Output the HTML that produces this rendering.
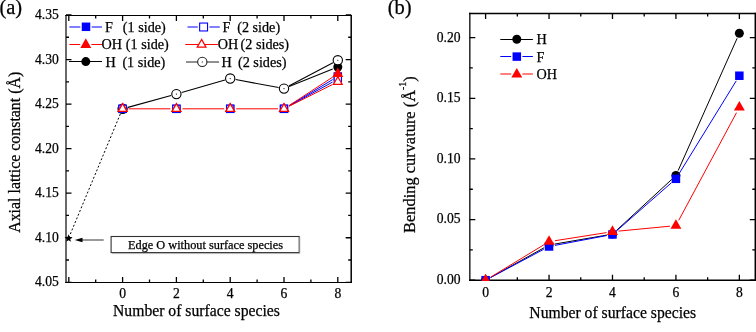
<!DOCTYPE html><html><head><meta charset="utf-8"><style>html,body{margin:0;padding:0;background:#fff;width:756px;height:332px;overflow:hidden}svg{display:block;will-change:transform}text{font-family:"Liberation Serif", serif;fill:#000;stroke:#000;stroke-width:0.25px}</style></head><body>
<svg width="756" height="332" viewBox="0 0 756 332">
<path d="M66.00 14.93V283.10" stroke="#444" stroke-width="1.6"/>
<path d="M351.20 14.93V283.10" stroke="#000" stroke-width="1.5"/>
<path d="M65.20 15.50H351.95" stroke="#000" stroke-width="1.15"/>
<path d="M65.20 282.50H351.95" stroke="#000" stroke-width="1.2"/>
<path d="M68.80 282.50V277.00M68.80 15.50V21.00M122.60 282.50V277.00M122.60 15.50V21.00M176.40 282.50V277.00M176.40 15.50V21.00M230.20 282.50V277.00M230.20 15.50V21.00M284.00 282.50V277.00M284.00 15.50V21.00M337.80 282.50V277.00M337.80 15.50V21.00M95.70 282.50V279.50M95.70 15.50V18.50M149.50 282.50V279.50M149.50 15.50V18.50M203.30 282.50V279.50M203.30 15.50V18.50M257.10 282.50V279.50M257.10 15.50V18.50M310.90 282.50V279.50M310.90 15.50V18.50M66.00 282.30H71.50M351.20 282.30H345.70M66.00 237.75H71.50M351.20 237.75H345.70M66.00 193.20H71.50M351.20 193.20H345.70M66.00 148.65H71.50M351.20 148.65H345.70M66.00 104.10H71.50M351.20 104.10H345.70M66.00 59.55H71.50M351.20 59.55H345.70M66.00 15.00H71.50M351.20 15.00H345.70M66.00 260.02H69.00M351.20 260.02H348.20M66.00 215.47H69.00M351.20 215.47H348.20M66.00 170.93H69.00M351.20 170.93H348.20M66.00 126.37H69.00M351.20 126.37H348.20M66.00 81.82H69.00M351.20 81.82H348.20M66.00 37.27H69.00M351.20 37.27H348.20" stroke="#000" stroke-width="1.3" fill="none"/>
<text x="58.80" y="286.30" font-size="13.6" text-anchor="end" >4.05</text>
<text x="58.80" y="241.75" font-size="13.6" text-anchor="end" >4.10</text>
<text x="58.80" y="197.20" font-size="13.6" text-anchor="end" >4.15</text>
<text x="58.80" y="152.65" font-size="13.6" text-anchor="end" >4.20</text>
<text x="58.80" y="108.10" font-size="13.6" text-anchor="end" >4.25</text>
<text x="58.80" y="63.55" font-size="13.6" text-anchor="end" >4.30</text>
<text x="58.80" y="19.00" font-size="13.6" text-anchor="end" >4.35</text>
<text x="122.60" y="297.50" font-size="13.6" text-anchor="middle" >0</text>
<text x="176.40" y="297.50" font-size="13.6" text-anchor="middle" >2</text>
<text x="230.20" y="297.50" font-size="13.6" text-anchor="middle" >4</text>
<text x="284.00" y="297.50" font-size="13.6" text-anchor="middle" >6</text>
<text x="337.80" y="297.50" font-size="13.6" text-anchor="middle" >8</text>
<text x="113.00" y="315.90" font-size="15.7" text-anchor="start" >Number of surface species</text>
<text x="19.60" y="232.80" font-size="15.9" text-anchor="start" transform="rotate(-90 19.6 232.8)">Axial lattice constant (Å)</text>
<text x="-0.60" y="14.20" font-size="20.5" text-anchor="start" >(a)</text>
<path d="M68.80 237.75L122.60 108.55" stroke="#000" stroke-width="1" stroke-dasharray="2 2" fill="none"/>
<path d="M127.91 107.37L171.09 95.57M181.68 92.59L224.92 80.06M235.61 79.54L278.59 87.58" fill="none" stroke="#000" stroke-width="1.05"/>
<path d="M289.10 86.54L332.70 69.00" fill="none" stroke="#000" stroke-width="1.05"/>
<path d="M288.87 86.03L332.93 62.83" fill="none" stroke="#000" stroke-width="1.05"/>
<path d="M289.14 105.73L332.66 79.57" fill="none" stroke="#0000ff" stroke-width="1.0"/>
<path d="M289.25 105.92L332.55 82.05" fill="none" stroke="#0000ff" stroke-width="1.0"/>
<path d="M128.60 108.82L170.40 108.82M182.40 108.82L224.20 108.82M236.20 108.82L278.00 108.82" fill="none" stroke="#ff0000" stroke-width="1.0"/>
<path d="M289.03 105.55L332.77 77.08" fill="none" stroke="#ff0000" stroke-width="1.0"/>
<path d="M289.36 106.13L332.44 84.52" fill="none" stroke="#ff0000" stroke-width="1.0"/>
<circle cx="122.60" cy="108.82" r="4.50" fill="#000"/>
<circle cx="176.40" cy="94.12" r="4.50" fill="#000"/>
<circle cx="230.20" cy="78.53" r="4.50" fill="#000"/>
<circle cx="284.00" cy="88.60" r="4.50" fill="#000"/>
<circle cx="337.80" cy="66.95" r="4.50" fill="#000"/>
<circle cx="122.60" cy="108.82" r="4.65" fill="#fff" stroke="#000" stroke-width="1.1"/>
<circle cx="122.60" cy="108.82" r="0.6" fill="#000"/>
<circle cx="176.40" cy="94.12" r="4.65" fill="#fff" stroke="#000" stroke-width="1.1"/>
<circle cx="176.40" cy="94.12" r="0.6" fill="#000"/>
<circle cx="230.20" cy="78.53" r="4.65" fill="#fff" stroke="#000" stroke-width="1.1"/>
<circle cx="230.20" cy="78.53" r="0.6" fill="#000"/>
<circle cx="284.00" cy="88.60" r="4.65" fill="#fff" stroke="#000" stroke-width="1.1"/>
<circle cx="284.00" cy="88.60" r="0.6" fill="#000"/>
<circle cx="337.80" cy="60.26" r="4.65" fill="#fff" stroke="#000" stroke-width="1.1"/>
<circle cx="337.80" cy="60.26" r="0.6" fill="#000"/>
<rect x="118.35" y="104.57" width="8.50" height="8.50" fill="#0000ff"/>
<rect x="172.15" y="104.57" width="8.50" height="8.50" fill="#0000ff"/>
<rect x="225.95" y="104.57" width="8.50" height="8.50" fill="#0000ff"/>
<rect x="279.75" y="104.57" width="8.50" height="8.50" fill="#0000ff"/>
<rect x="333.55" y="72.23" width="8.50" height="8.50" fill="#0000ff"/>
<rect x="119.00" y="105.22" width="7.20" height="7.20" fill="#fff" stroke="#0000ff" stroke-width="1.1"/>
<rect x="172.80" y="105.22" width="7.20" height="7.20" fill="#fff" stroke="#0000ff" stroke-width="1.1"/>
<rect x="226.60" y="105.22" width="7.20" height="7.20" fill="#fff" stroke="#0000ff" stroke-width="1.1"/>
<rect x="280.40" y="105.22" width="7.20" height="7.20" fill="#fff" stroke="#0000ff" stroke-width="1.1"/>
<rect x="334.20" y="75.55" width="7.20" height="7.20" fill="#fff" stroke="#0000ff" stroke-width="1.1"/>
<path d="M122.60 102.42L128.05 112.02L117.15 112.02Z" fill="#ff0000"/>
<path d="M176.40 102.42L181.85 112.02L170.95 112.02Z" fill="#ff0000"/>
<path d="M230.20 102.42L235.65 112.02L224.75 112.02Z" fill="#ff0000"/>
<path d="M284.00 102.42L289.45 112.02L278.55 112.02Z" fill="#ff0000"/>
<path d="M337.80 67.41L343.25 77.01L332.35 77.01Z" fill="#ff0000"/>
<path d="M122.60 103.62L127.00 111.42L118.20 111.42Z" fill="#fff" stroke="#ff0000" stroke-width="1.2" stroke-linejoin="miter"/>
<path d="M176.40 103.62L180.80 111.42L172.00 111.42Z" fill="#fff" stroke="#ff0000" stroke-width="1.2" stroke-linejoin="miter"/>
<path d="M230.20 103.62L234.60 111.42L225.80 111.42Z" fill="#fff" stroke="#ff0000" stroke-width="1.2" stroke-linejoin="miter"/>
<path d="M284.00 103.62L288.40 111.42L279.60 111.42Z" fill="#fff" stroke="#ff0000" stroke-width="1.2" stroke-linejoin="miter"/>
<path d="M337.80 76.62L342.20 84.42L333.40 84.42Z" fill="#fff" stroke="#ff0000" stroke-width="1.2" stroke-linejoin="miter"/>
<polygon points="68.50,234.15 69.56,236.89 72.49,237.05 70.21,238.91 70.97,241.75 68.50,240.15 66.03,241.75 66.79,238.91 64.51,237.05 67.44,236.89" fill="#000"/>
<path d="M82 240H103.7" stroke="#777" stroke-width="1.5"/>
<path d="M74.7 240L82.5 237.8V242.2Z" fill="#000"/>
<rect x="111.1" y="236.5" width="188.1" height="16.1" fill="#fff" stroke="#333" stroke-width="1.1"/>
<path d="M112 253.6H299.8V237" stroke="#aaa" stroke-width="0.8" fill="none"/>
<text x="128.00" y="249.20" font-size="12.3" text-anchor="start" >Edge O without surface species</text>
<path d="M69.40 27.00H80.35M91.65 27.00H102.00" stroke="#0000ff" stroke-width="1"/>
<rect x="81.75" y="22.55" width="8.50" height="8.50" fill="#0000ff"/>
<path d="M69.40 44.50H80.20M91.40 44.50H102.00" stroke="#ff0000" stroke-width="1"/>
<path d="M85.80 38.30L91.25 47.90L80.35 47.90Z" fill="#ff0000"/>
<path d="M69.00 61.50H102.00" stroke="#000" stroke-width="1"/>
<circle cx="85.80" cy="61.60" r="4.50" fill="#000"/>
<path d="M187.50 27.00H197.75M209.45 27.00H219.80" stroke="#0000ff" stroke-width="1"/>
<rect x="199.65" y="23.05" width="7.90" height="7.90" fill="#fff" stroke="#0000ff" stroke-width="1.1"/>
<path d="M185.30 44.50H217.90" stroke="#ff0000" stroke-width="1"/>
<path d="M201.60 39.40L206.00 47.20L197.20 47.20Z" fill="#fff" stroke="#ff0000" stroke-width="1.2" stroke-linejoin="miter"/>
<path d="M186.00 62.00H219.10" stroke="#222" stroke-width="1"/>
<circle cx="202.30" cy="61.90" r="4.65" fill="#fff" stroke="#222" stroke-width="1.1"/>
<circle cx="202.30" cy="61.90" r="0.6" fill="#222"/>
<text x="105.00" y="31.60" font-size="14.2" text-anchor="start" >F</text>
<text x="122.80" y="31.60" font-size="14.2" text-anchor="start" >(1 side)</text>
<text x="101.60" y="49.40" font-size="14.2" text-anchor="start" >OH</text>
<text x="125.80" y="49.40" font-size="14.2" text-anchor="start" >(1 side)</text>
<text x="105.60" y="66.80" font-size="14.2" text-anchor="start" >H</text>
<text x="122.40" y="66.80" font-size="14.2" text-anchor="start" >(1 side)</text>
<text x="222.60" y="31.60" font-size="14.2" text-anchor="start" >F</text>
<text x="237.20" y="31.60" font-size="14.2" text-anchor="start" >(2 side)</text>
<text x="217.70" y="49.40" font-size="14.2" text-anchor="start" >OH</text>
<text x="240.60" y="49.40" font-size="14.2" text-anchor="start" >(2 sides)</text>
<text x="221.50" y="66.80" font-size="14.2" text-anchor="start" >H</text>
<text x="238.00" y="66.80" font-size="14.2" text-anchor="start" >(2 sides)</text>
<path d="M469.80 12.75V280.95" stroke="#333" stroke-width="1.6"/>
<path d="M755.30 12.75V280.95" stroke="#000" stroke-width="1.5"/>
<path d="M469.00 13.50H756.05" stroke="#000" stroke-width="1.5"/>
<path d="M469.00 280.20H756.05" stroke="#000" stroke-width="1.5"/>
<path d="M485.60 280.20V274.70M485.60 13.50V19.00M549.04 280.20V274.70M549.04 13.50V19.00M612.48 280.20V274.70M612.48 13.50V19.00M675.92 280.20V274.70M675.92 13.50V19.00M739.36 280.20V274.70M739.36 13.50V19.00M517.32 280.20V277.20M517.32 13.50V16.50M580.76 280.20V277.20M580.76 13.50V16.50M644.20 280.20V277.20M644.20 13.50V16.50M707.64 280.20V277.20M707.64 13.50V16.50M469.80 280.20H475.30M755.30 280.20H749.80M469.80 219.56H475.30M755.30 219.56H749.80M469.80 158.93H475.30M755.30 158.93H749.80M469.80 98.29H475.30M755.30 98.29H749.80M469.80 37.65H475.30M755.30 37.65H749.80M469.80 249.88H472.80M755.30 249.88H752.30M469.80 189.25H472.80M755.30 189.25H752.30M469.80 128.61H472.80M755.30 128.61H752.30M469.80 67.97H472.80M755.30 67.97H752.30" stroke="#000" stroke-width="1.3" fill="none"/>
<text x="460.50" y="284.10" font-size="13.6" text-anchor="end" >0.00</text>
<text x="460.50" y="223.46" font-size="13.6" text-anchor="end" >0.05</text>
<text x="460.50" y="162.83" font-size="13.6" text-anchor="end" >0.10</text>
<text x="460.50" y="102.19" font-size="13.6" text-anchor="end" >0.15</text>
<text x="460.50" y="41.55" font-size="13.6" text-anchor="end" >0.20</text>
<text x="485.60" y="297.00" font-size="13.6" text-anchor="middle" >0</text>
<text x="549.04" y="297.00" font-size="13.6" text-anchor="middle" >2</text>
<text x="612.48" y="297.00" font-size="13.6" text-anchor="middle" >4</text>
<text x="675.92" y="297.00" font-size="13.6" text-anchor="middle" >6</text>
<text x="739.36" y="297.00" font-size="13.6" text-anchor="middle" >8</text>
<text x="529.30" y="318.30" font-size="15.7" text-anchor="start" >Number of surface species</text>
<text transform="rotate(-90 415.2 232.9)" x="415.2" y="232.9" font-size="16.4">Bending curvature (Å<tspan dy="-9.3" font-size="10">-1</tspan><tspan dy="9.3">)</tspan></text>
<text x="387.70" y="14.00" font-size="20.5" text-anchor="start" >(b)</text>
<clipPath id="cb"><rect x="469.8" y="13.5" width="285.5" height="267.5"/></clipPath><g clip-path="url(#cb)">
<path d="M490.41 277.53L544.23 247.70M554.46 244.10L607.06 235.05M616.52 230.39L671.88 179.27M678.16 170.52L737.12 38.31" fill="none" stroke="#000" stroke-width="1.0"/>
<circle cx="485.60" cy="280.20" r="4.50" fill="#000"/>
<circle cx="549.04" cy="245.03" r="4.50" fill="#000"/>
<circle cx="612.48" cy="234.12" r="4.50" fill="#000"/>
<circle cx="675.92" cy="175.54" r="4.50" fill="#000"/>
<circle cx="739.36" cy="33.29" r="4.50" fill="#000"/>
<path d="M490.90 277.38L543.74 249.30M554.94 245.37L606.58 235.60M616.99 230.52L671.41 182.77M679.06 173.71L736.22 80.84" fill="none" stroke="#0000ff" stroke-width="1.0"/>
<rect x="481.35" y="275.95" width="8.50" height="8.50" fill="#0000ff"/>
<rect x="544.79" y="242.24" width="8.50" height="8.50" fill="#0000ff"/>
<rect x="608.23" y="230.23" width="8.50" height="8.50" fill="#0000ff"/>
<rect x="671.67" y="174.57" width="8.50" height="8.50" fill="#0000ff"/>
<rect x="735.11" y="71.48" width="8.50" height="8.50" fill="#0000ff"/>
<path d="M490.73 277.08L543.91 244.75M554.97 240.71L606.55 232.62M618.45 231.12L669.95 226.20M678.76 220.34L736.52 112.67" fill="none" stroke="#ff0000" stroke-width="1.0"/>
<path d="M485.60 273.80L491.05 283.40L480.15 283.40Z" fill="#ff0000"/>
<path d="M549.04 235.24L554.49 244.84L543.59 244.84Z" fill="#ff0000"/>
<path d="M612.48 225.29L617.93 234.89L607.03 234.89Z" fill="#ff0000"/>
<path d="M675.92 219.23L681.37 228.83L670.47 228.83Z" fill="#ff0000"/>
<path d="M739.36 100.99L744.81 110.59L733.91 110.59Z" fill="#ff0000"/>
</g>
<path d="M500.30 39.50H532.90" stroke="#000" stroke-width="1"/>
<circle cx="516.80" cy="39.30" r="4.50" fill="#000"/>
<path d="M500.30 56.50H511.15M522.45 56.50H532.90" stroke="#0000ff" stroke-width="1"/>
<rect x="512.55" y="52.35" width="8.50" height="8.50" fill="#0000ff"/>
<path d="M500.30 74.00H511.20M522.40 74.00H532.90" stroke="#ff0000" stroke-width="1"/>
<path d="M516.80 67.90L522.25 77.50L511.35 77.50Z" fill="#ff0000"/>
<text x="536.50" y="44.00" font-size="14.2" text-anchor="start" >H</text>
<text x="536.50" y="61.50" font-size="14.2" text-anchor="start" >F</text>
<text x="536.50" y="78.70" font-size="14.2" text-anchor="start" >OH</text>
</svg></body></html>
